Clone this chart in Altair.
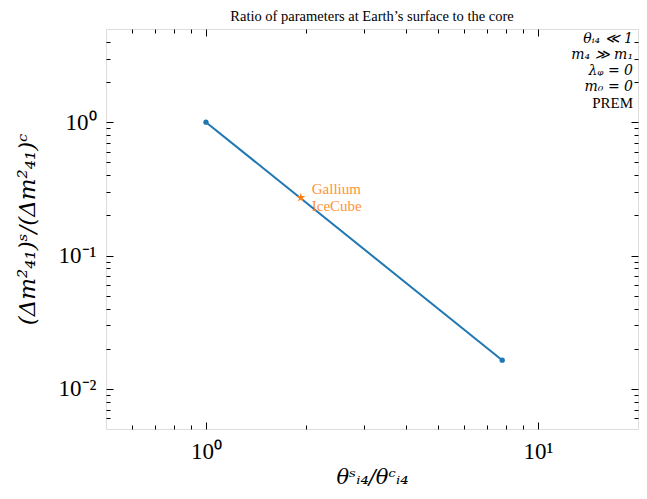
import altair as alt
import pandas as pd

# ---- data ----
line_x = [1.0, 7.8]
line_y = [1.0, 0.0164]
star_x = [1.93]
star_y = [0.272]
star_label = ["Gallium\nIceCube"]

x_major = [1, 10]
x_minor = [0.6, 0.7, 0.8, 0.9, 2, 3, 4, 5, 6, 7, 8, 9]
y_major = [0.01, 0.1, 1]
y_minor = [0.006, 0.007, 0.008, 0.009,
           0.02, 0.03, 0.04, 0.05, 0.06, 0.07, 0.08, 0.09,
           0.2, 0.3, 0.4, 0.5, 0.6, 0.7, 0.8, 0.9,
           2, 3, 4]
x_domain = [0.5, 20]
y_domain = [0.005, 5]

corner_lines = ["θᵢ₄ ≪ 1", "m₄ ≫ m₁", "λᵩ = 0", "m₀ = 0"]
corner_last = ["PREM"]
chart_title = "Ratio of parameters at Earth’s surface to the core"
x_title = "θˢᵢ₄/θᶜᵢ₄"
y_title = "(Δm²₄₁)ˢ/(Δm²₄₁)ᶜ"

FONT = "Liberation Serif"
MATH = "DejaVu Serif"
BLUE = "#1f77b4"
ORANGE = "#ff7f0e"
W, H = 532, 400
MAJ, MIN = 7, 4

line_df = pd.DataFrame({"x": line_x, "y": line_y})
star_df = pd.DataFrame({"x": star_x, "y": star_y, "label": star_label})
one = pd.DataFrame({"a": [0]})

xs = alt.Scale(type="log", domain=x_domain)
ys = alt.Scale(type="log", domain=y_domain)


def tick_axis(orient, values, size, **kw):
    base = dict(orient=orient, values=values, tickSize=size, offset=-size,
                domain=False, grid=False, title=None, labels=False,
                tickColor="black", tickWidth=1)
    base.update(kw)
    return alt.Axis(**base)


x_label_expr = "datum.value == 1 ? '10⁰' : '10¹'"
y_label_expr = ("datum.value == 1 ? '10⁰' : (datum.value == 0.1 ? '10⁻¹' : '10⁻²')")

main_line = alt.Chart(line_df).mark_line(color=BLUE, strokeWidth=2).encode(
    x=alt.X("x:Q", scale=xs, axis=tick_axis(
        "bottom", x_major, MAJ, labels=True, labelExpr=x_label_expr,
        labelFont=FONT, labelFontSize=23, labelPadding=11, labelColor="black",
        title=x_title, titleFont=MATH, titleFontSize=21, titleFontWeight="normal",
        titleFontStyle="italic", titlePadding=3, titleColor="black")),
    y=alt.Y("y:Q", scale=ys, axis=tick_axis(
        "left", y_major, MAJ, labels=True, labelExpr=y_label_expr,
        labelFont=FONT, labelFontSize=23, labelPadding=10, labelColor="black",
        title=y_title, titleFont=MATH, titleFontSize=23, titleFontWeight="normal",
        titleFontStyle="italic", titlePadding=19, titleColor="black")),
)

ticks_tr_major = alt.Chart(line_df).mark_line(opacity=0).encode(
    x=alt.X("x:Q", scale=xs, axis=tick_axis("top", x_major, MAJ)),
    y=alt.Y("y:Q", scale=ys, axis=tick_axis("right", y_major, MAJ)),
)
ticks_bl_minor = alt.Chart(line_df).mark_line(opacity=0).encode(
    x=alt.X("x:Q", scale=xs, axis=tick_axis("bottom", x_minor, MIN)),
    y=alt.Y("y:Q", scale=ys, axis=tick_axis("left", y_minor, MIN)),
)
ticks_tr_minor = alt.Chart(line_df).mark_line(opacity=0).encode(
    x=alt.X("x:Q", scale=xs, axis=tick_axis("top", x_minor, MIN)),
    y=alt.Y("y:Q", scale=ys, axis=tick_axis("right", y_minor, MIN)),
)

points = alt.Chart(line_df).mark_point(
    filled=True, shape="circle", size=28, color=BLUE, opacity=1).encode(
    x=alt.X("x:Q", scale=xs, axis=None),
    y=alt.Y("y:Q", scale=ys, axis=None),
)

STAR = ("M0,-1L0.2245,-0.309L0.9511,-0.309L0.3633,0.118L0.5878,0.809"
        "L0,0.382L-0.5878,0.809L-0.3633,0.118L-0.9511,-0.309L-0.2245,-0.309Z")
star = alt.Chart(star_df).mark_point(
    filled=True, shape=STAR, size=90, color=ORANGE, opacity=1).encode(
    x=alt.X("x:Q", scale=xs, axis=None),
    y=alt.Y("y:Q", scale=ys, axis=None),
)
star_text = alt.Chart(star_df).mark_text(
    align="left", baseline="middle", dx=11, dy=-8.5, lineBreak="\n",
    lineHeight=17, font=FONT, fontSize=15, color=ORANGE, opacity=0.85).encode(
    x=alt.X("x:Q", scale=xs, axis=None),
    y=alt.Y("y:Q", scale=ys, axis=None),
    text="label:N",
)

corner = alt.Chart(one).mark_text(
    align="right", baseline="top", text=corner_lines, lineHeight=16,
    font=MATH, fontSize=14, fontStyle="italic", color="black").encode(
    x=alt.value(W - 5), y=alt.value(3))
corner2 = alt.Chart(one).mark_text(
    align="right", baseline="top", text=corner_last,
    font=FONT, fontSize=15, color="black").encode(
    x=alt.value(W - 5), y=alt.value(3 + 4 * 16))

chart = alt.layer(
    main_line, ticks_tr_major, ticks_bl_minor, ticks_tr_minor,
    points, star, star_text, corner, corner2,
).resolve_axis(x="independent", y="independent").properties(
    width=W, height=H,
    title=alt.TitleParams(chart_title, font=FONT, fontSize=14.5,
                          fontWeight="normal", color="black", offset=4),
    autosize=alt.AutoSizeParams(type="none"),
    padding={"left": 98, "top": 21, "right": 1, "bottom": 62},
).configure_view(stroke="black", strokeWidth=1.2).configure(background="white")

chart.save("out.html", embed_options={"renderer": "svg", "actions": False})
